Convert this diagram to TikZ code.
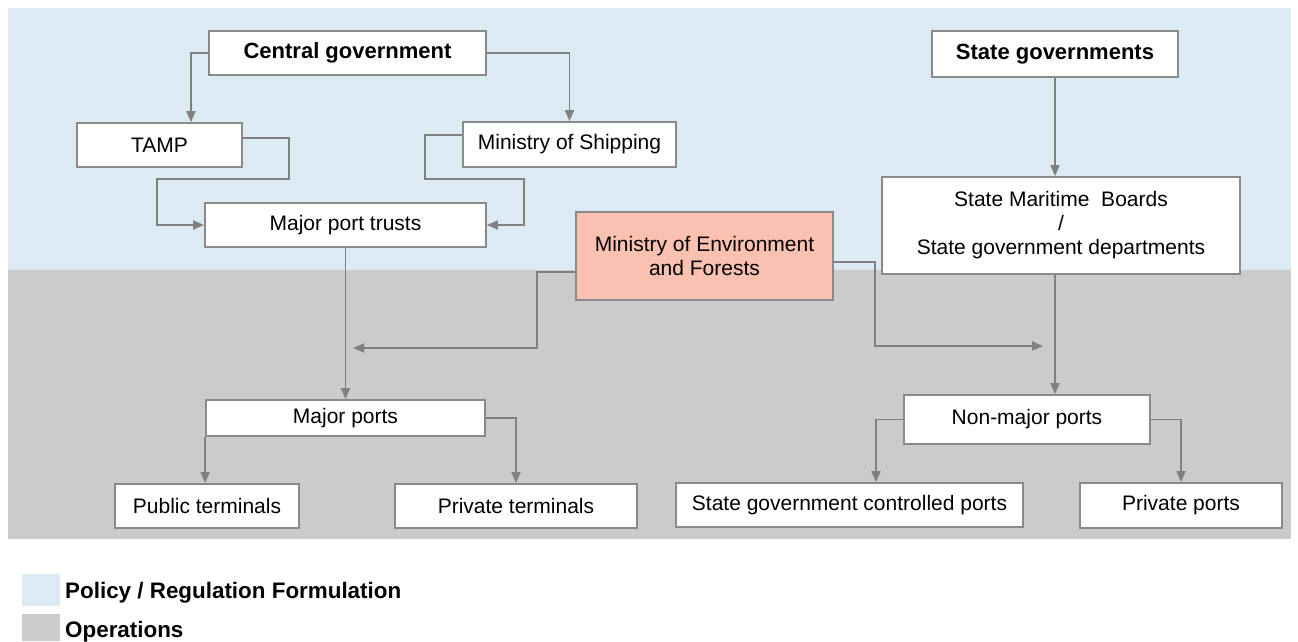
\documentclass[tikz,border=0pt]{standalone}
\usepackage{fontspec}
\setmainfont{Liberation Sans}
\usetikzlibrary{arrows.meta}
\definecolor{policyblue}{RGB}{219,234,243}
\definecolor{opsgray}{RGB}{203,203,203}
\definecolor{boxline}{RGB}{138,138,138}
\definecolor{connc}{RGB}{128,128,128}
\definecolor{moefill}{RGB}{251,193,176}
\begin{document}
\begin{tikzpicture}[x=1pt,y=-1pt,
  box/.style={draw=boxline, line width=1.8pt, fill=white, inner sep=0pt,
    font=\fontsize{21}{24}\selectfont, align=center},
  bbox/.style={box, font=\fontsize{22}{26}\selectfont\bfseries},
  arr/.style={draw=connc, line width=1.8pt, -{Triangle[length=11pt,width=9pt]}},
  legtext/.style={anchor=base west, inner sep=0pt, font=\fontsize{22.4}{26}\selectfont\bfseries}]
\useasboundingbox (0,0) rectangle (1298,641);
% background bands
\fill[policyblue] (8,8) rectangle (1291,270);
\fill[opsgray] (8,270) rectangle (1291,539);
% nodes
\node[bbox, minimum width=277pt, minimum height=44pt] (cg) at (347.5,53) {Central government};
\node[bbox, minimum width=246pt, minimum height=46pt] (sg) at (1055,54) {State governments};
\node[box, minimum width=165pt, minimum height=44pt] (tamp) at (159.5,145) {TAMP};
\node[box, minimum width=213pt, minimum height=45pt] (ms) at (569.5,144.5) {Ministry of Shipping};
\node[box, minimum width=281pt, minimum height=44pt] (mpt) at (345.5,225) {Major port trusts};
\node[box, fill=moefill, minimum width=257pt, minimum height=88pt] (moef) at (704.5,256) {Ministry of Environment\\and Forests};
\node[box, minimum width=358pt, minimum height=97pt] (smb) at (1061,225.5) {State Maritime~ Boards\\/\\State government departments};
\node[box, minimum width=279pt, minimum height=36pt] (mp) at (345.5,418) {Major ports};
\node[box, minimum width=246pt, minimum height=49pt] (nmp) at (1027,419.5) {Non-major ports};
\node[box, minimum width=184pt, minimum height=44pt] (pt) at (207,506) {Public terminals};
\node[box, minimum width=242pt, minimum height=44pt] (prt) at (516,506) {Private terminals};
\node[box, minimum width=347pt, minimum height=44pt] (sgc) at (849.5,505) {State government controlled ports};
\node[box, minimum width=202pt, minimum height=45pt] (pp) at (1181,505.5) {Private ports};
% helper coordinates
\coordinate (tampx) at (191,0);
\coordinate (mlend) at (353,348);
\coordinate (mrend) at (1043,346);
\coordinate (sgcx) at (876,0);
% connectors
\draw[arr] (cg.west) -| (tampx |- tamp.north);
\draw[arr] (cg.east) -| (ms.north);
\draw[arr] (tamp.east |- 0,138) -| (289,179) -| (157,225) -- (mpt.west);
\draw[arr] (ms.west |- 0,135) -| (425,179) -| (524,225) -- (mpt.east);
\draw[arr] (mpt.south) -- (mp.north);
\draw[arr] (moef.west |- 0,272) -| (537,348) -- (mlend);
\draw[arr] (moef.east |- 0,262) -| (875,346) -- (mrend);
\draw[arr] (sg.south) -- (sg.south |- smb.north);
\draw[arr] (sg.south |- smb.south) -- (sg.south |- nmp.north);
\draw[arr] (mp.south west) -- (mp.south west |- pt.north);
\draw[arr] (mp.east) -| (prt.north);
\draw[arr] (nmp.west) -| (sgcx |- sgc.north);
\draw[arr] (nmp.east) -| (pp.north);
% legend
\fill[policyblue] (22,574) rectangle (60,606);
\fill[opsgray] (22,614) rectangle (60,641);
\node[legtext] (lp) at (65,598) {Policy / Regulation Formulation};
\node[legtext] (lo) at (65,637) {Operations};
\end{tikzpicture}
\end{document}
